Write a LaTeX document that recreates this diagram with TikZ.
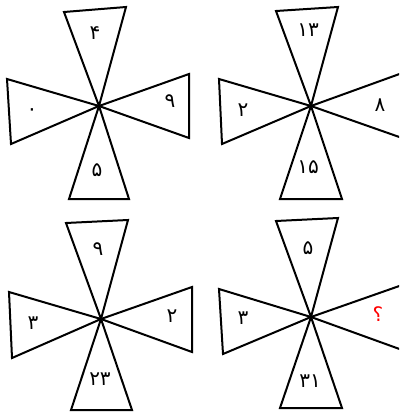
\documentclass[tikz,border=0pt]{standalone}
\usepackage{fontspec}
\newfontfamily\arabicfont[Script=Arabic]{DejaVu Sans}
\begin{document}
\begin{tikzpicture}[x=1pt,y=-1pt,
  tri/.style={draw=black,line width=2pt,line join=miter},
  num/.style={font=\arabicfont\fontsize{20}{20}\selectfont,inner sep=0pt}]
\useasboundingbox (0,0) rectangle (399,412);
\clip (0,0) rectangle (399,412);
% ---------- figure 1 ----------
\coordinate (c1) at (99,106);
\draw[tri] (c1) -- (64,12) -- (126,7) -- cycle;
\draw[tri] (c1) -- (69,199) -- (129,199) -- cycle;
\draw[tri] (c1) -- (7,79) -- (11,144) -- cycle;
\draw[tri] (c1) -- (189,74) -- (189,138) -- cycle;
\node[num] (a1) at (95,33) {۴};
\node[num] (a2) at (32,112) {۰};
\node[num] (a3) at (170,101) {۹};
\node[num] (a4) at (97,170) {۵};
% ---------- figure 2 ----------
\coordinate (c2) at (311,106);
\draw[tri] (c2) -- (276,11) -- (338,7) -- cycle;
\draw[tri] (c2) -- (280,199) -- (342,199) -- cycle;
\draw[tri] (c2) -- (219,79) -- (222,144) -- cycle;
\draw[tri] (c2) -- (405,72) -- (405,139) -- cycle;
\node[num] (b1) at (308,30) {۱۳};
\node[num] (b2) at (243,110) {۲};
\node[num] (b3) at (380,105) {۸};
\node[num] (b4) at (308,167) {۱۵};
% ---------- figure 3 ----------
\coordinate (c3) at (101,319);
\draw[tri] (c3) -- (66,223) -- (128,220) -- cycle;
\draw[tri] (c3) -- (71,410) -- (132,410) -- cycle;
\draw[tri] (c3) -- (9,292) -- (12,358) -- cycle;
\draw[tri] (c3) -- (192,287) -- (192,352) -- cycle;
\node[num] (d1) at (98,249) {۹};
\node[num] (d2) at (33,323) {۳};
\node[num] (d3) at (172,316) {۲};
\node[num] (d4) at (100,379) {۲۳};
% ---------- figure 4 ----------
\coordinate (c4) at (311,317);
\draw[tri] (c4) -- (276,221) -- (338,218) -- cycle;
\draw[tri] (c4) -- (280,408) -- (342,408) -- cycle;
\draw[tri] (c4) -- (219,289) -- (223,354) -- cycle;
\draw[tri] (c4) -- (405,284) -- (405,351) -- cycle;
\node[num] (e1) at (308,248) {۵};
\node[num] (e2) at (243,318) {۳};
\node[num,text=red] (e3) at (378,314) {؟};
\node[num] (e4) at (310,381) {۳۱};
\end{tikzpicture}
\end{document}
